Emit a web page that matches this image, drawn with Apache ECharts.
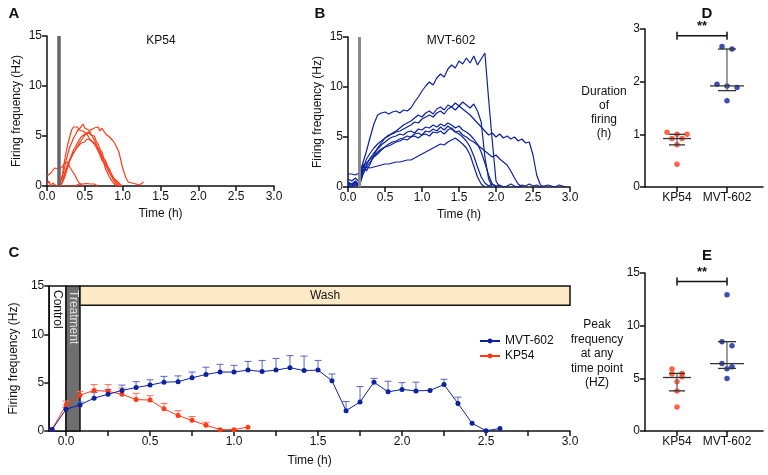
<!DOCTYPE html>
<html><head><meta charset="utf-8">
<script src="https://cdn.jsdelivr.net/npm/echarts@6/dist/echarts.min.js"></script>
<style>html,body{margin:0;padding:0;background:#fff}#c{width:768px;height:475px}</style>
</head><body><div id="c"></div>
<script>
// ---------- Panel A: KP54 single-cell traces (Hz), sampled every 0.025 h ----------
const A_STEP = 0.025;
const kpTraceStart = [0.15, 0.15, 0.175, 0.175, 0.175, 0, 0];
const kpTrace1 = [0,0.1,1.0,2.2,3.3,4.2,4.9,5.6,5.9,5.7,5.9,5.6,5.8,5.5,5.6,5.2,4.9,4.6,4.7,4.2,3.9,3.5,3.1,2.6,2.3,1.7,1.5,0.9,0.6,0.3,0.1,0];
const kpTrace2 = [0,0.2,0.8,1.6,2.5,3.2,3.9,4.3,4.8,5.1,5.5,5.4,5.9,6.2,5.8,6.0,5.6,5.3,5.1,4.6,4.4,3.8,3.5,3.0,2.6,2.1,1.9,1.3,1.0,0.6,0.4,0.1,0];
const kpTrace3 = [0,0.3,0.9,1.6,2.1,2.5,2.9,3.3,3.6,3.9,4.3,4.5,4.8,5.1,4.9,5.3,5.6,5.4,5.8,5.6,5.9,5.5,5.8,5.7,5.2,5.3,4.9,4.8,4.5,4.2,3.8,3.4,2.6,1.8,1.2,0.7,0.4,0.2,0.3,0.1,0.2,0.0,0.1,0.2,0.4];
const kpTrace4 = [0,0.2,0.7,1.3,1.9,2.6,3.1,3.6,3.9,4.3,4.5,4.9,5.0,5.2,5.0,5.4,5.1,4.9,5.0,4.5,4.2,3.7,3.4,2.8,2.5,2.0,1.7,1.2,0.9,0.5,0.3,0.1,0];
const kpTrace5 = [0,0.4,1.0,1.6,2.2,2.6,3.0,3.3,3.6,3.9,4.1,4.3,4.5,4.4,4.7,4.8,4.6,4.7,4.3,4.1,3.6,3.3,2.9,2.5,2.2,1.8,1.5,1.2,0.8,1.0,0.5,0.3,0.1,0];
const kpTrace6 = [1.0,1.1,1.3,1.5,1.8,2.0,1.7,1.5,1.9,2.2,2.0,2.4,1.9,1.6,1.3,1.0,0.6,0.3,0.1,0];
const kpTrace7 = [0.1,0.5,0.0,0.3,0.1,0,0,0,0,0,0,0,0,0,0,0,0.1,0.2,0.1,0.2,0.15,0.25,0.1,0.2,0.1,0.2,0.05,0];
const kpTraces = [kpTrace1,kpTrace2,kpTrace3,kpTrace4,kpTrace5,kpTrace6,kpTrace7];

// ---------- Panel B: MVT-602 traces (Hz), sampled every 0.05 h ----------
const B_STEP = 0.05;
const mvtTrace1 = [0.3,0.2,0.4,0.2,2.4,3.6,5.0,6.3,7.2,7.4,7.5,7.3,7.5,7.6,7.4,7.7,7.6,7.9,8.5,9.0,9.6,10.1,10.5,10.2,10.9,11.3,11.0,11.8,12.2,11.9,12.6,12.3,12.9,12.4,13.1,12.2,12.8,13.4,8.8,4.6,0.6,0];
const mvtTrace2 = [1.3,1.3,1.2,1.4,2.3,1.6,2.3,3.2,3.9,4.4,4.9,5.1,5.4,5.6,5.9,6.2,6.4,6.6,6.9,7.2,7.0,7.4,7.6,7.3,7.8,8.0,7.7,8.2,8.0,8.4,8.1,8.5,8.2,7.9,8.3,7.6,6.5,3.0,0.8,0];
const mvtTrace3 = [0.5,0.3,0.6,0.2,1.8,2.8,3.4,3.9,4.3,4.6,4.9,5.2,5.3,5.5,5.6,5.8,6.0,6.2,6.5,6.4,6.8,7.0,7.2,7.0,7.4,7.6,7.3,7.8,8.0,7.7,8.1,7.8,7.5,7.2,6.8,6.4,6.0,5.6,5.2,5.4,5.0,5.3,4.9,5.1,4.8,5.0,4.6,4.8,4.4,4.5,3.2,1.2,0.2,0];
const mvtTrace4 = [0.2,0.1,0.3,0.1,1.5,2.2,2.9,3.4,3.8,4.2,4.5,4.8,5.0,5.1,5.3,5.2,5.5,5.6,5.4,5.8,5.7,6.0,5.9,6.2,6.0,6.3,6.1,6.4,6.2,5.9,6.1,5.7,5.5,5.2,4.8,4.3,3.5,2.4,1.2,0.3,0];
const mvtTrace5 = [0.8,0.6,0.9,0.5,2.0,2.4,2.8,3.1,3.5,3.8,4.0,4.3,4.5,4.6,4.8,4.9,5.1,5.0,5.3,5.4,5.2,5.6,5.5,5.8,5.6,6.0,5.7,6.1,5.8,5.5,5.6,5.2,5.0,4.7,4.5,4.2,3.9,3.6,3.3,3.0,3.2,2.8,2.5,2.2,1.6,0.9,0.3,0];
const mvtTrace6 = [0.1,0,0.2,0,1.2,2.0,2.5,3.0,3.3,3.7,4.0,4.1,4.3,4.5,4.6,4.8,4.7,5.0,5.1,4.9,5.2,5.3,5.1,5.5,5.4,5.6,5.3,5.7,5.9,5.5,5.3,5.0,4.6,4.0,3.1,2.0,1.0,0.4,0.1,0.3,0.1,0.2,0,0.1,0.3,0.1,0,0.2,0.1,0.3,0.1,0.2,0,0.1,0.2,0.1,0,0.2,0.1,0];
const mvtTrace7 = [0.4,0.3,0.5,0.2,1.6,2.0,1.9,2.0,2.1,2.2,2.3,2.3,2.4,2.5,2.5,2.6,2.7,2.7,2.9,3.1,3.3,3.5,3.7,3.9,4.1,4.3,4.2,4.5,4.7,4.9,4.6,4.3,3.9,3.2,2.1,1.0,0.3,0];
const mvtTraces = [mvtTrace1,mvtTrace2,mvtTrace3,mvtTrace4,mvtTrace5,mvtTrace6,mvtTrace7];
const treatmentMark = 0.15;

// ---------- Panel C: mean + SEM ----------
const cTimes = [-0.083,0,0.083,0.167,0.25,0.333,0.417,0.5,0.583,0.667,0.75,0.833,0.917,1.0,1.083,1.167,1.25,1.333,1.417,1.5,1.583,1.667,1.75,1.833,1.917,2.0,2.083,2.167,2.25,2.333,2.417,2.5,2.583];
const mvtMean = [0.15,2.25,2.7,3.4,3.8,4.2,4.5,4.75,5.05,5.1,5.5,5.85,6.1,6.1,6.3,6.15,6.3,6.55,6.25,6.3,5.2,2.1,3.0,5.05,4.05,4.3,4.15,4.2,4.8,2.85,0.8,0.03,0.25];
const mvtSem  = [0,0.2,0.3,0.6,0.5,0.55,0.6,0.55,0.6,0.6,0.6,0.75,0.8,0.7,0.9,1.15,1.2,1.25,1.5,1.0,0.7,0.95,1.6,0.4,1.1,0.7,0.9,0,0.55,0.65,0,0,0];
const kpMean = [0.17,2.7,3.7,4.2,4.1,3.8,3.25,3.2,2.3,1.6,1.1,0.6,0.14,0.14,0.4];
const kpSem  = [0,0.4,0.4,0.6,0.7,0.65,0.65,0.45,0.55,0.5,0.4,0.3,0,0,0];
const phaseStart = [-0.1, 0, 0.083];
const phaseEnd   = [0, 0.083, 3.0];
const phaseLow   = [0, 0, 13];
const phaseHigh  = [15, 15, 15];
const phaseNames = ['Control','Treatment','Wash'];

// ---------- Panels D / E ----------
const groups = ['KP54','MVT-602'];
const durKP  = [1.0,0.92,1.04,1.0,0.92,0.8,0.43];
const durMVT = [2.67,2.62,1.95,1.89,1.92,1.64];
const durMedian = [0.92,1.92], durQ1 = [0.8,1.83], durQ3 = [1.0,2.62];
const durSig = 2.87;
const peakKP  = [5.47,5.4,5.88,5.15,4.67,3.8,2.29];
const peakMVT = [12.93,8.48,8.1,6.42,6.1,5.9,4.99];
const peakMedian = [5.08,6.39], peakQ1 = [3.81,5.94], peakQ3 = [5.47,8.48];
const peakSig = 14.2;

// ---------- styling ----------
const RED = '#ff3b17', BLUE = '#0d22a0', INK = '#111';
const FONT = 'Liberation Sans, Arial, sans-serif';
const chart = echarts.init(document.getElementById('c'), null, {renderer:'canvas'});

function series(start, step, vals){ return vals.map((v,i)=>[+(start+i*step).toFixed(4), v]); }
const axLine = {show:true, onZero:false, lineStyle:{color:INK, width:1.5}};
const axTick = {show:true, length:5, lineStyle:{color:INK, width:1.5}};
const axLbl = {color:INK, fontSize:12, fontFamily:FONT, margin:5};
function yAx(grid, max, interval, name, gap){
  return {type:'value', gridIndex:grid, min:0, max:max, interval:interval, axisLine:axLine, axisTick:axTick,
    axisLabel:axLbl, splitLine:{show:false}, name:name||'', nameLocation:'middle', nameGap:gap||0, nameRotate:90,
    nameTextStyle:{color:INK, fontSize:12, fontFamily:FONT}};
}
function xTime(grid, gap){
  return {type:'value', gridIndex:grid, min:0, max:3, interval:0.5, axisLine:axLine, axisTick:axTick,
    axisLabel:Object.assign({}, axLbl, {formatter:v=>v.toFixed(1)}), splitLine:{show:false},
    name:'Time (h)', nameLocation:'middle', nameGap:gap, nameTextStyle:{color:INK, fontSize:12, fontFamily:FONT}};
}
function xCat(grid){
  return {type:'value', gridIndex:grid, min:0.36, max:2.72, axisLine:axLine,
    axisTick:Object.assign({}, axTick, {customValues:[1,2]}),
    axisLabel:Object.assign({}, axLbl, {customValues:[1,2], formatter:v=>groups[Math.round(v)-1]}), splitLine:{show:false}};
}
function swarm(vals, pxPerUnit){
  const order = vals.map((v,i)=>i).sort((a,b)=>vals[b]-vals[a]);
  const off = new Array(vals.length).fill(0);
  let k = 0;
  while (k < order.length){
    const row=[order[k]]; const top = vals[order[k]]*pxPerUnit; k++;
    while (k < order.length && top - vals[order[k]]*pxPerUnit < 5) { row.push(order[k]); k++; }
    row.forEach((idx,j)=>{ off[idx] = (j-(row.length-1)/2)*10; });
  }
  return off;
}
function dots(vals, cat, pxPerUnit){
  const off = swarm(vals, pxPerUnit);
  return vals.map((v,i)=>({value:[cat, v], symbolOffset:[off[i],0]}));
}
function summaryRender(params, api){
  const c = api.value(0), m = api.value(1), lo = api.value(2), hi = api.value(3);
  const pm = api.coord([c,m]), pl = api.coord([c,lo]), ph = api.coord([c,hi]);
  const w = c===1 ? 14 : 17, cw = c===1 ? 8 : 9;
  const st = {stroke:'#333', lineWidth:1.3};
  return {type:'group', children:[
    {type:'line', shape:{x1:pl[0],y1:pl[1],x2:ph[0],y2:ph[1]}, style:{stroke:'#666', lineWidth:1.3}},
    {type:'line', shape:{x1:pm[0]-w,y1:pm[1],x2:pm[0]+w,y2:pm[1]}, style:st},
    {type:'line', shape:{x1:pl[0]-cw,y1:pl[1],x2:pl[0]+cw,y2:pl[1]}, style:st},
    {type:'line', shape:{x1:ph[0]-cw,y1:ph[1],x2:ph[0]+cw,y2:ph[1]}, style:st}
  ]};
}
function sigRender(params, api){
  const a = api.coord([api.value(0), api.value(2)]), b = api.coord([api.value(1), api.value(2)]);
  const st = {stroke:INK, lineWidth:1.5};
  return {type:'group', children:[
    {type:'line', shape:{x1:a[0],y1:a[1],x2:b[0],y2:b[1]}, style:st},
    {type:'line', shape:{x1:a[0],y1:a[1]-4,x2:a[0],y2:a[1]+4}, style:st},
    {type:'line', shape:{x1:b[0],y1:b[1]-4,x2:b[0],y2:b[1]+4}, style:st},
    {type:'text', x:(a[0]+b[0])/2, y:a[1]-3, style:{text:'**', fill:INK, font:'bold 13px '+FONT, align:'center', verticalAlign:'bottom'}}
  ]};
}
function errRender(color){
  return function(params, api){
    const x = api.value(0), m = api.value(1), e = api.value(2);
    if (!e) return null;
    const p0 = api.coord([x,m]), p1 = api.coord([x,m+e]);
    const st = {stroke:color, lineWidth:1};
    return {type:'group', children:[
      {type:'line', shape:{x1:p0[0],y1:p0[1],x2:p1[0],y2:p1[1]}, style:st},
      {type:'line', shape:{x1:p1[0]-3.5,y1:p1[1],x2:p1[0]+3.5,y2:p1[1]}, style:st}
    ]};
  };
}
const phaseFill = ['#ffffff','#6e6e6e','#fde9c6'];
const phaseText = [INK,'#e0e0e0',INK];
function phaseRender(params, api){
  const i = params.dataIndex;
  const a = api.coord([api.value(0), api.value(3)]), b = api.coord([api.value(1), api.value(2)]);
  const ch = [{type:'rect', shape:{x:a[0], y:a[1], width:b[0]-a[0], height:b[1]-a[1]},
    style:{fill:phaseFill[i], stroke:INK, lineWidth:1.5}}];
  if (i < 2) ch.push({type:'text', x:(a[0]+b[0])/2, y:a[1]+4, rotation:-Math.PI/2,
    style:{text:phaseNames[i], fill:phaseText[i], font:'12px '+FONT, align:'left', verticalAlign:'middle'}});
  else ch.push({type:'text', x:(a[0]+b[0])/2, y:(a[1]+b[1])/2, style:{text:phaseNames[i], fill:INK, font:'12px '+FONT, align:'center', verticalAlign:'middle'}});
  return {type:'group', children:ch};
}

const S = [];
kpTraces.forEach((tr,i)=>S.push({type:'line', xAxisIndex:0, yAxisIndex:0, showSymbol:false, silent:true,
  data:series(kpTraceStart[i], A_STEP, tr), lineStyle:{color:RED, width:1.2}, z:3,
  markLine: i===0 ? {silent:true, symbol:'none', label:{show:false}, lineStyle:{color:'#666', width:3.5, type:'solid'}, data:[{xAxis:treatmentMark}]} : undefined}));
mvtTraces.forEach((tr,i)=>S.push({type:'line', xAxisIndex:1, yAxisIndex:1, showSymbol:false, silent:true,
  data:series(0, B_STEP, tr), lineStyle:{color:BLUE, width:1.2}, z:3,
  markLine: i===0 ? {silent:true, symbol:'none', label:{show:false}, lineStyle:{color:'#8a8a8a', width:3, type:'solid'}, data:[{xAxis:treatmentMark}]} : undefined}));
// C
S.push({type:'custom', xAxisIndex:2, yAxisIndex:2, silent:true, z:1, renderItem:phaseRender,
  data:phaseStart.map((s,i)=>[s, phaseEnd[i], phaseLow[i], phaseHigh[i]])});
S.push({type:'custom', xAxisIndex:2, yAxisIndex:2, silent:true, z:2, renderItem:errRender('#5566c8'),
  data:cTimes.map((t,i)=>[t, mvtMean[i], mvtSem[i]])});
S.push({type:'custom', xAxisIndex:2, yAxisIndex:2, silent:true, z:2, renderItem:errRender('#ff6d55'),
  data:kpMean.map((m,i)=>[cTimes[i], m, kpSem[i]])});
S.push({name:'MVT-602', type:'line', xAxisIndex:2, yAxisIndex:2, symbol:'circle', symbolSize:5, z:4,
  data:cTimes.map((t,i)=>[t, mvtMean[i]]), lineStyle:{color:BLUE, width:1}, itemStyle:{color:BLUE}});
S.push({name:'KP54', type:'line', xAxisIndex:2, yAxisIndex:2, symbol:'circle', symbolSize:5, z:3,
  data:kpMean.map((m,i)=>[cTimes[i], m]), lineStyle:{color:RED, width:1}, itemStyle:{color:RED}});
// D
S.push({type:'custom', xAxisIndex:3, yAxisIndex:3, silent:true, z:3, renderItem:summaryRender,
  data:[1,2].map((c,i)=>[c, durMedian[i], durQ1[i], durQ3[i]])});
S.push({type:'scatter', xAxisIndex:3, yAxisIndex:3, symbolSize:5.5, itemStyle:{color:RED}, z:2, data:dots(durKP,1,52.7)});
S.push({type:'scatter', xAxisIndex:3, yAxisIndex:3, symbolSize:5.5, itemStyle:{color:BLUE}, z:2, data:dots(durMVT,2,52.7)});
S.push({type:'custom', xAxisIndex:3, yAxisIndex:3, silent:true, renderItem:sigRender, data:[[1,2,durSig]]});
// E
S.push({type:'custom', xAxisIndex:4, yAxisIndex:4, silent:true, z:3, renderItem:summaryRender,
  data:[1,2].map((c,i)=>[c, peakMedian[i], peakQ1[i], peakQ3[i]])});
S.push({type:'scatter', xAxisIndex:4, yAxisIndex:4, symbolSize:5.5, itemStyle:{color:RED}, z:2, data:dots(peakKP,1,10.53)});
S.push({type:'scatter', xAxisIndex:4, yAxisIndex:4, symbolSize:5.5, itemStyle:{color:BLUE}, z:2, data:dots(peakMVT,2,10.53)});
S.push({type:'custom', xAxisIndex:4, yAxisIndex:4, silent:true, renderItem:sigRender, data:[[1,2,peakSig]]});

const txt = (t, x, y, extra) => ({type:'text', x:x, y:y, style:Object.assign({text:t, fill:INK, font:'12px '+FONT, align:'center', verticalAlign:'middle'}, extra||{})});
const option = {
  animation:false,
  backgroundColor:'#fff',
  textStyle:{fontFamily:FONT},
  grid:[
    {left:47, top:36, width:227, height:150},
    {left:348, top:37, width:222, height:150},
    {left:46, top:286, width:524, height:145},
    {left:645, top:29, width:118, height:158},
    {left:645, top:273, width:118, height:158}
  ],
  xAxis:[
    xTime(0, 22), xTime(1, 22),
    {type:'value', gridIndex:2, min:-0.1, max:3, axisLine:axLine,
      axisTick:Object.assign({}, axTick, {customValues:[0,0.25,0.5,0.75,1,1.25,1.5,1.75,2,2.25,2.5,2.75,3]}),
      axisLabel:Object.assign({}, axLbl, {customValues:[0,0.5,1,1.5,2,2.5,3], formatter:v=>v.toFixed(1)}),
      splitLine:{show:false}, name:'Time (h)', nameLocation:'middle', nameGap:24, nameTextStyle:{color:INK, fontSize:12, fontFamily:FONT}},
    xCat(3), xCat(4)
  ],
  yAxis:[
    yAx(0, 15, 5, 'Firing frequency (Hz)', 24),
    yAx(1, 15, 5, 'Firing frequency (Hz)', 24),
    yAx(2, 15, 5, 'Firing frequency (Hz)', 22),
    yAx(3, 3, 1), yAx(4, 15, 5)
  ],
  legend:{data:['MVT-602','KP54'], orient:'vertical', left:474, top:330, itemGap:3, itemWidth:20, itemHeight:6,
    textStyle:{color:INK, fontSize:12, fontFamily:FONT}, selectedMode:false},
  graphic:[
    txt('A', 14, 14, {font:'bold 15px '+FONT}),
    txt('B', 320, 14, {font:'bold 15px '+FONT}),
    txt('C', 14, 253, {font:'bold 15px '+FONT}),
    txt('D', 707, 14, {font:'bold 15px '+FONT}),
    txt('E', 707, 256, {font:'bold 15px '+FONT}),
    txt('KP54', 161, 41),
    txt('MVT-602', 451, 41),
    txt('Duration\nof\nfiring\n(h)', 604, 113, {lineHeight:14}),
    txt('Peak\nfrequency\nat any\ntime point\n(HZ)', 597, 354, {lineHeight:14.5})
  ],
  series:S
};
chart.setOption(option);
</script>
</body></html>
